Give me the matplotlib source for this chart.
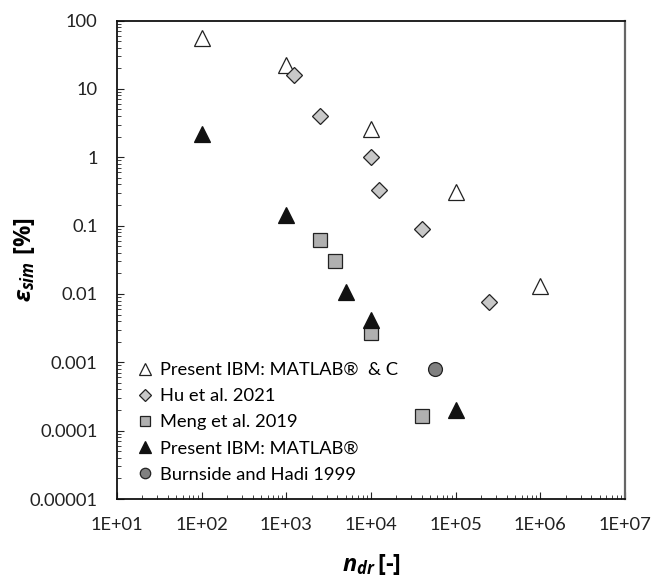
import numpy as np
import matplotlib
matplotlib.use('Agg')
import matplotlib.pyplot as plt

plt.rcParams['font.family'] = ['Lato', 'DejaVu Sans']
plt.rcParams['mathtext.fontset'] = 'custom'
plt.rcParams['mathtext.it'] = 'Open Sans:italic:bold'
plt.rcParams['mathtext.rm'] = 'Open Sans:bold'

# data
x_mc = [1e2, 1e3, 1e4, 1e5, 1e6]
y_mc = [55, 22.5, 2.6, 0.31, 0.013]

x_hu = [1240, 2500, 1e4, 12500, 4e4, 2.5e5]
y_hu = [15.7, 4.0, 1.0, 0.336, 0.088, 0.0076]

x_meng = [2500, 3750, 1e4, 4e4]
y_meng = [0.062, 0.030, 0.0027, 0.000165]

x_mat = [1e2, 1e3, 5e3, 1e4, 1e5]
y_mat = [2.2, 0.144, 0.0108, 0.0041, 0.0002]

x_bh = [56800]
y_bh = [0.00081]

xticks = [1e1, 1e2, 1e3, 1e4, 1e5, 1e6, 1e7]
xlabels = ['1E+01', '1E+02', '1E+03', '1E+04', '1E+05', '1E+06', '1E+07']
yticks = [1e-5, 1e-4, 1e-3, 1e-2, 1e-1, 1, 10, 100]
ylabels = ['0.00001', '0.0001', '0.001', '0.01', '0.1', '1', '10', '100']

fig = plt.figure(figsize=(6.53, 5.81), dpi=100)
ax = fig.add_axes([117/653, 1-499/581, (625-117)/653, (499-20.5)/581])

ec = '#222222'
ax.plot(x_mc, y_mc, '^', ms=12, mfc='white', mec=ec, mew=0.9,
        label='Present IBM: MATLAB®  & C', zorder=3)
ax.plot(x_hu, y_hu, 'D', ms=8, mfc='#c8c8c8', mec=ec, mew=0.9,
        label='Hu et al. 2021', zorder=4)
ax.plot(x_meng, y_meng, 's', ms=9.5, mfc='#b0b0b0', mec=ec, mew=0.9,
        label='Meng et al. 2019', zorder=3)
ax.plot(x_mat, y_mat, '^', ms=12, mfc='#111111', mec='#111111', mew=0.9,
        label='Present IBM: MATLAB®', zorder=4)
ax.plot(x_bh, y_bh, 'o', ms=10, mfc='#808080', mec=ec, mew=0.9,
        label='Burnside and Hadi 1999', zorder=3)

ax.set_xscale('log')
ax.set_yscale('log')
ax.set_xlim(1e1, 1e7)
ax.set_ylim(1e-5, 100)
ax.set_xticks(xticks)
ax.set_xticklabels(xlabels)
ax.set_yticks(yticks)
ax.set_yticklabels(ylabels)
ax.tick_params(which='both', direction='in', top=False, right=False,
               labelsize=13.2, colors='#222222')
ax.tick_params(which='major', length=5)
ax.tick_params(which='minor', length=3)
ax.tick_params(axis='x', which='major', pad=13)
ax.tick_params(axis='y', which='major', pad=14)
for s in ['left', 'bottom', 'top']:
    ax.spines[s].set_linewidth(1.3)
    ax.spines[s].set_color('#111111')
ax.spines['right'].set_linewidth(1.6)
ax.spines['right'].set_color('#666666')

ax.set_xlabel(r'$n_{dr}\,\text{[-]}$', fontsize=17)
ax.set_ylabel(r'$\varepsilon_{sim}\ \mathrm{[\%]}$', fontsize=17)
ax.xaxis.set_label_coords(0.5, -0.11)
ax.yaxis.set_label_coords(-0.157, 0.5)

ax.legend(loc='lower left', bbox_to_anchor=(0.008, 0.0), frameon=False,
          fontsize=13.2, handlelength=0.8, handletextpad=0.45,
          labelspacing=0.55, borderaxespad=0.5, markerscale=0.75)

plt.savefig('out.png', dpi=100)
